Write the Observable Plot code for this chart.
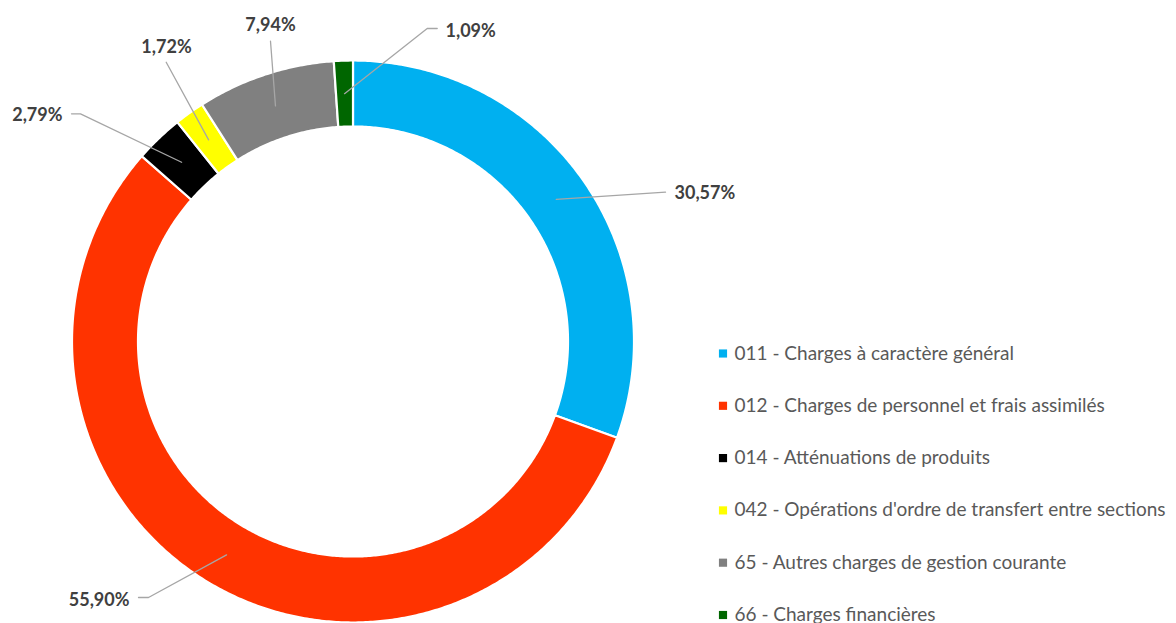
<!DOCTYPE html>
<html>
<head>
<meta charset="utf-8">
<script src="https://cdn.jsdelivr.net/npm/d3@7"></script>
<script src="https://cdn.jsdelivr.net/npm/@observablehq/plot@0.6"></script>
<style>
  html, body { margin: 0; padding: 0; background: #ffffff; }
  #chart svg { display: block; }
</style>
</head>
<body>
<div id="chart"></div>
<script>
// ---- Data ----
const categories = [
  "011 - Charges à caractère général",
  "012 - Charges de personnel et frais assimilés",
  "014 - Atténuations de produits",
  "042 - Opérations d'ordre de transfert entre sections",
  "65 - Autres charges de gestion courante",
  "66 - Charges financières"
];
const shares = [30.57, 55.90, 2.79, 1.72, 7.94, 1.09];
const colors = ["#00B0F0", "#FF3300", "#000000", "#FFFF00", "#808080", "#006600"];

// ---- Layout (pixels) ----
const W = 1176, H = 623;
const CX = 352.5, CY = 341, R = 281, R_IN = 215;
// label anchors & leader bends, in pixels
const labelLayout = [
  {tx: 674, ty: 193, anchor: "start",  bend: null,          end: [665, 191.7]},
  {tx: 129, ty: 600, anchor: "end",    bend: [148, 597],    end: [138, 597]},
  {tx: 62,  ty: 115, anchor: "end",    bend: [80, 113.3],   end: [71, 113.3]},
  {tx: 166, ty: 47,  anchor: "middle", bend: null,          end: [165.7, 61.7]},
  {tx: 270, ty: 25,  anchor: "middle", bend: null,          end: [270, 40.7]},
  {tx: 445, ty: 31,  anchor: "start",  bend: [426.7, 28],   end: [436.7, 28]}
];
const legendLayout = {squareX: 722.5, textX: 734, y0: 353, dy: 52.3};

// pixel -> unit coordinates (unit circle centred on pie)
const ux = px => (px - CX) / R;
const uy = py => (CY - py) / R;
const rIn = R_IN / R, rMid = (R + R_IN) / 2 / R;

// ---- Build slices ----
const total = d3.sum(shares);
let acc = 0;
const slices = categories.map((name, i) => {
  const a0 = acc / total * 360;
  acc += shares[i];
  const a1 = acc / total * 360;
  return {name, value: shares[i], a0, a1, mid: (a0 + a1) / 2};
});
const rad = a => a * Math.PI / 180;
const pt = (r, a) => [r * Math.sin(rad(a)), r * Math.cos(rad(a))];

const slicePts = [];
for (const s of slices) {
  const n = Math.max(4, Math.ceil((s.a1 - s.a0) / 0.5));
  for (let k = 0; k <= n; k++) {
    const a = s.a0 + (s.a1 - s.a0) * k / n;
    const [x, y] = pt(1, a);
    slicePts.push({name: s.name, x, y});
  }
  for (let k = n; k >= 0; k--) {
    const a = s.a0 + (s.a1 - s.a0) * k / n;
    const [x, y] = pt(rIn, a);
    slicePts.push({name: s.name, x, y});
  }
}

// leader lines
const leaderPts = [];
slices.forEach((s, i) => {
  const L = labelLayout[i];
  const [mx, my] = pt(rMid, s.mid);
  leaderPts.push({name: s.name, x: mx, y: my});
  if (L.bend) leaderPts.push({name: s.name, x: ux(L.bend[0]), y: uy(L.bend[1])});
  leaderPts.push({name: s.name, x: ux(L.end[0]), y: uy(L.end[1])});
});

const fmt = v => v.toFixed(2).replace(".", ",") + "%";
const labels = slices.map((s, i) => ({
  text: fmt(s.value), x: ux(labelLayout[i].tx), y: uy(labelLayout[i].ty), anchor: labelLayout[i].anchor
}));

const legend = categories.map((name, i) => ({
  name,
  y: uy(legendLayout.y0 + i * legendLayout.dy)
}));

const FONT = "Lato, 'Open Sans', sans-serif";

const chart = Plot.plot({
  width: W,
  height: H,
  margin: 0,
  style: {background: "#ffffff", fontFamily: FONT},
  x: {domain: [ux(0), ux(W)], axis: null},
  y: {domain: [uy(H), uy(0)], axis: null},
  color: {domain: categories, range: colors},
  marks: [
    Plot.line(slicePts, {x: "x", y: "y", z: "name", fill: "name", stroke: "#ffffff", strokeWidth: 2.2, curve: "linear-closed"}),
    Plot.line(leaderPts, {x: "x", y: "y", z: "name", stroke: "#A6A6A6", strokeWidth: 1.3}),
    ...["start", "middle", "end"].map(anchor =>
      Plot.text(labels.filter(d => d.anchor === anchor), {
        x: "x", y: "y", text: "text", textAnchor: anchor,
        fill: "#404040", fontWeight: "bold", fontSize: 18, fontFamily: FONT
      })
    ),
    Plot.dot(legend, {x: ux(legendLayout.squareX), y: "y", fill: "name", symbol: "square", r: 4.6, stroke: null}),
    Plot.text(legend, {
      x: ux(legendLayout.textX), y: "y", text: "name", textAnchor: "start",
      fill: "#595959", fontSize: 19, fontFamily: FONT
    })
  ]
});
document.getElementById("chart").appendChild(chart);
</script>
</body>
</html>
